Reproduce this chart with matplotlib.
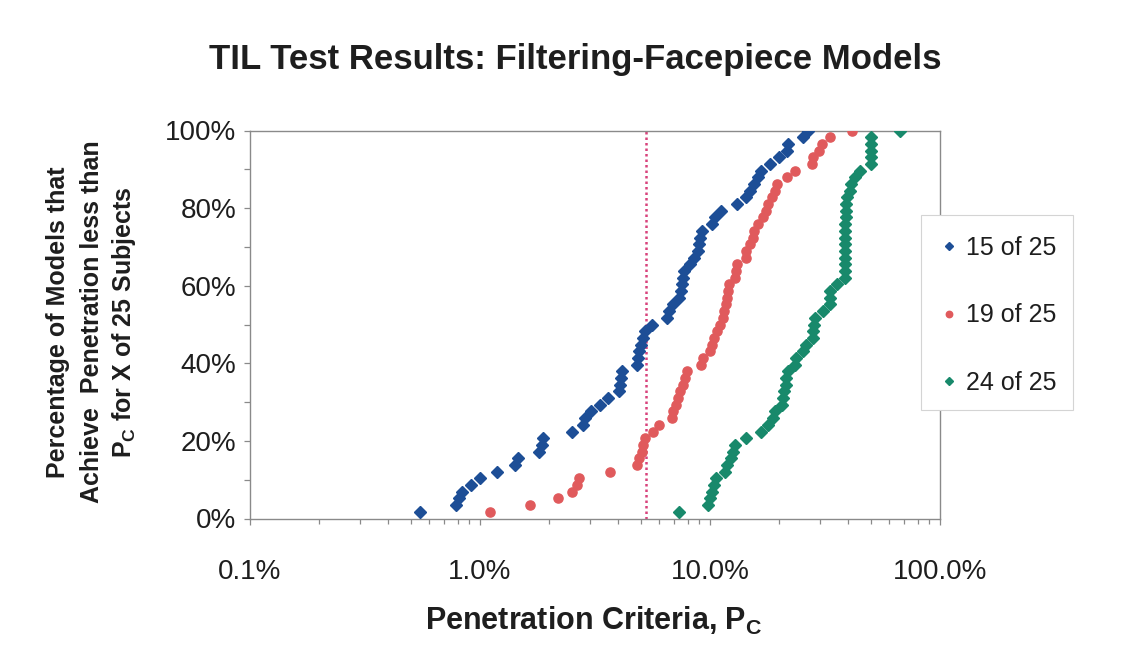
import matplotlib
matplotlib.use("Agg")
import matplotlib.pyplot as plt
from matplotlib.ticker import FixedLocator, FixedFormatter, NullFormatter
from matplotlib.patches import Rectangle

# ---------------- data ----------------
n_models = 58
series_labels = ["15 of 25", "19 of 25", "24 of 25"]

# penetration (%) achieved by each model, sorted ascending
pen_15_of_25 = [0.55, 0.79, 0.81, 0.835, 0.91, 1.00, 1.19, 1.42, 1.47, 1.81,
                1.86, 1.88, 2.52, 2.81, 2.86, 3.03, 3.32, 3.61, 4.03, 4.08,
                4.12, 4.15, 4.80, 4.88, 4.93, 5.00, 5.10, 5.22, 5.61, 6.48,
                6.65, 6.90, 7.35, 7.45, 7.53, 7.61, 7.69, 8.18, 8.55, 8.90,
                8.98, 9.05, 9.20, 10.2, 10.5, 11.2, 13.1, 14.4, 14.9, 15.6,
                16.2, 16.7, 18.2, 20.0, 21.6, 21.8, 25.3, 26.8]

pen_19_of_25 = [1.11, 1.65, 2.19, 2.50, 2.63, 2.70, 3.67, 4.80, 4.93, 5.05,
                5.13, 5.22, 5.67, 6.02, 6.82, 6.92, 7.11, 7.28, 7.41, 7.60,
                7.79, 7.92, 9.18, 9.32, 9.97, 10.25, 10.45, 10.7, 11.0, 11.36,
                11.5, 11.7, 11.8, 11.95, 12.1, 12.8, 13.0, 13.1, 14.3, 14.4,
                14.9, 15.4, 15.6, 16.2, 17.0, 17.5, 17.9, 18.6, 19.2, 19.5,
                21.6, 23.4, 27.7, 28.0, 29.9, 30.6, 33.2, 41.6]

pen_24_of_25 = [7.35, 9.85, 10.0, 10.2, 10.4, 10.6, 11.6, 11.9, 12.3, 12.6,
                12.9, 14.4, 16.7, 17.9, 18.7, 19.1, 20.5, 20.7, 20.9, 21.3,
                21.5, 21.8, 23.4, 23.6, 25.3, 26.2, 28.0, 28.1, 28.3, 28.6,
                30.9, 33.2, 33.3, 33.4, 35.8, 38.7, 38.6, 38.6, 38.6, 38.7,
                38.7, 38.8, 38.8, 38.8, 38.9, 39.0, 39.1, 39.3, 40.6, 41.2,
                42.5, 44.7, 50.0, 50.0, 50.1, 50.1, 50.1, 67.0]

criterion_pct = 5.25

x_ticks = [0.1, 1.0, 10.0, 100.0]
x_tick_labels = ["0.1%", "1.0%", "10.0%", "100.0%"]
y_ticks = [0, 20, 40, 60, 80, 100]
y_tick_labels = ["0%", "20%", "40%", "60%", "80%", "100%"]
y_minor_ticks = [10, 30, 50, 70, 90]

# cumulative percentage of models (empirical distribution)
cum_pct = [100.0 * (i + 1) / n_models for i in range(n_models)]

# ---------------- style ----------------
FONT = "Liberation Sans"
plt.rcParams["font.family"] = [FONT, "DejaVu Sans"]
TXT = "#1e1e1e"
BLUE = "#1d4e96"
RED = "#e05a5c"
GREEN = "#18896b"
FRAME = "#8a8a8a"

W, H = 1127, 645
fig = plt.figure(figsize=(W / 100, H / 100), dpi=100)
fig.patch.set_facecolor("white")

left, right, top, bottom = 250, 940, 130.5, 518.5
ax = fig.add_axes([left / W, 1 - bottom / H, (right - left) / W, (bottom - top) / H])

ax.plot(pen_15_of_25, cum_pct, ls="none", marker="D", ms=6.3, color=BLUE,
        mec=BLUE, label=series_labels[0], zorder=3)
ax.plot(pen_19_of_25, cum_pct, ls="none", marker="o", ms=6.6, color=RED,
        mec=RED, label=series_labels[1], zorder=3)
ax.plot(pen_24_of_25, cum_pct, ls="none", marker="D", ms=6.3, color=GREEN,
        mec=GREEN, label=series_labels[2], zorder=3)

ax.axvline(criterion_pct, color="#d8437c", ls=(0, (1, 1.2)), lw=1.8, zorder=2)

ax.set_xscale("log")
ax.set_xlim(0.1, 100)
ax.set_ylim(0, 100)

ax.xaxis.set_major_locator(FixedLocator(x_ticks))
ax.xaxis.set_major_formatter(FixedFormatter(x_tick_labels))
minor_x = [m * d for d in (0.1, 1.0, 10.0) for m in range(2, 10)]
ax.xaxis.set_minor_locator(FixedLocator(minor_x))
ax.xaxis.set_minor_formatter(NullFormatter())

ax.yaxis.set_major_locator(FixedLocator(y_ticks))
ax.yaxis.set_major_formatter(FixedFormatter(y_tick_labels))
ax.yaxis.set_minor_locator(FixedLocator(y_minor_ticks))
ax.yaxis.set_minor_formatter(NullFormatter())

ax.tick_params(axis="x", which="major", direction="out", length=4, width=0.9,
               color=FRAME, labelsize=20, labelcolor=TXT, pad=25)
ax.tick_params(axis="x", which="minor", direction="out", length=3.5, width=0.9,
               color=FRAME)
ax.tick_params(axis="y", which="both", direction="out", length=4, width=0.9,
               color=FRAME, labelsize=20, labelcolor=TXT, pad=6)

for sp in ax.spines.values():
    sp.set_color(FRAME)
    sp.set_linewidth(1.0)

# ---------------- texts ----------------
fig.text(575 / W, 1 - 60 / H, "TIL Test Results: Filtering-Facepiece Models",
         ha="center", va="center", fontsize=25, fontweight="bold", color=TXT)

fig.text(594 / W, 1 - 621 / H, r"Penetration Criteria, $\mathregular{P_C}$",
         ha="center", va="center", fontsize=22, fontweight="bold", color=TXT)

ylab_lines = ["Percentage of Models that",
              "Achieve  Penetration less than",
              r"$\mathregular{P_C}$ for X of 25 Subjects"]
for xc, line in zip((58, 92, 124), ylab_lines):
    fig.text(xc / W, 1 - 322 / H, line, rotation=90, ha="center", va="center",
             fontsize=18, fontweight="bold", color=TXT)

# ---------------- legend ----------------
lx0, ly0, lx1, ly1 = 921, 215, 1073, 410
fig.patches.append(Rectangle((lx0 / W, 1 - ly1 / H), (lx1 - lx0) / W,
                             (ly1 - ly0) / H, transform=fig.transFigure,
                             facecolor="white", edgecolor="#d4d4d4", lw=0.8,
                             zorder=1))
handles, labels = ax.get_legend_handles_labels()
leg = fig.legend(handles, labels, loc="upper left",
                 bbox_to_anchor=(939 / W, 1 - 236 / H), frameon=False,
                 fontsize=18, markerscale=0.7, handlelength=0.8,
                 handletextpad=0.3, labelspacing=1.74, borderpad=0,
                 borderaxespad=0)
for t in leg.get_texts():
    t.set_color(TXT)
leg.set_zorder(5)

fig.savefig("out.png", dpi=100, facecolor="white")
